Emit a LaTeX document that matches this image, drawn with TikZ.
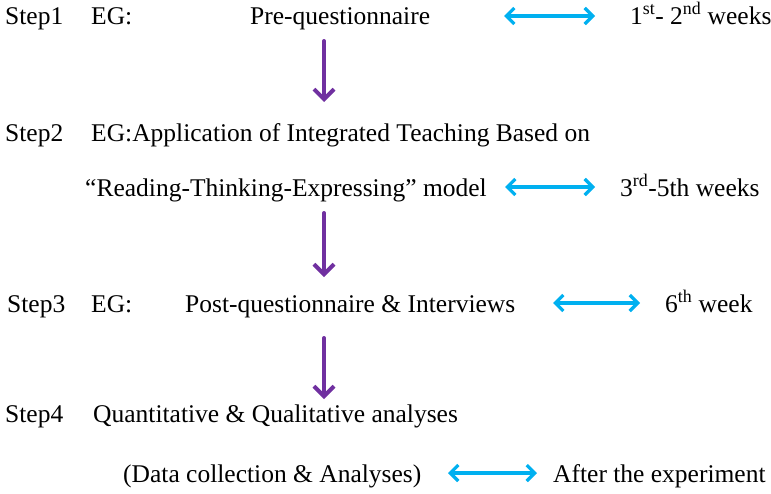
\documentclass[tikz,border=0pt]{standalone}
\usepackage{fontspec}
\setmainfont{Liberation Serif}
\usetikzlibrary{arrows.meta}
\definecolor{stepPurple}{HTML}{7030A0}
\definecolor{stepCyan}{HTML}{00B0F0}
\begin{document}
\begin{tikzpicture}[x=1pt,y=-1pt,
  txt/.style={anchor=base west,inner sep=0pt,font=\fontsize{25.5}{30}\selectfont},
  flow/.style={draw=stepPurple,line width=4pt,line cap=round,
    -{Straight Barb[length=10pt,width=20pt,line width=4pt]}},
  span/.style={draw=stepCyan,line width=3.2pt,line cap=round,
    {Straight Barb[length=8pt,width=16pt,line width=3.2pt]}-{Straight Barb[length=8pt,width=16pt,line width=3.2pt]}}]
\useasboundingbox (0,0) rectangle (771,493);
% row 1
\node[txt] (s1) at (5,24) {Step1};
\node[txt] (eg1) at (91,24) {EG:};
\node[txt] (pre) at (250,24) {Pre-questionnaire};
\node[txt] (w1) at (630,24) {1\textsuperscript{st}- 2\textsuperscript{nd} weeks};
% row 2
\node[txt] (s2) at (5,141) {Step2};
\node[txt] (app) at (91,141) {EG:Application of Integrated Teaching Based on};
% row 3
\node[txt] (rte) at (85,196) {“Reading-Thinking-Expressing” model};
\node[txt] (w2) at (620,196) {3\textsuperscript{rd}-5th weeks};
% row 4
\node[txt] (s3) at (7,312) {Step3};
\node[txt] (eg3) at (91,312) {EG:};
\node[txt] (post) at (185,312) {Post-questionnaire \& Interviews};
\node[txt] (w3) at (665,312) {6\textsuperscript{th} week};
% row 5
\node[txt] (s4) at (5,422) {Step4};
\node[txt] (qq) at (93,422) {Quantitative \& Qualitative analyses};
% row 6
\node[txt] (dc) at (123,482) {(Data collection \& Analyses)};
\node[txt] (aft) at (553,482) {After the experiment};
% coordinates
\coordinate (p1a) at (324,41);
\coordinate (p1b) at (324,102);
\coordinate (p2a) at (324,213);
\coordinate (p2b) at (324,277);
\coordinate (p3a) at (324,338);
\coordinate (p3b) at (324,399);
\coordinate (c1a) at (504,16);
\coordinate (c1b) at (595,16);
\coordinate (c2a) at (505,187);
\coordinate (c2b) at (595,187);
\coordinate (c3a) at (553,303);
\coordinate (c3b) at (640,303);
\coordinate (c4a) at (448,473);
\coordinate (c4b) at (537,473);
% purple flow arrows
\draw[flow] (p1a) -- (p1b);
\draw[flow] (p2a) -- (p2b);
\draw[flow] (p3a) -- (p3b);
% cyan span arrows
\draw[span] (c1a) -- (c1b);
\draw[span] (c2a) -- (c2b);
\draw[span] (c3a) -- (c3b);
\draw[span] (c4a) -- (c4b);
\end{tikzpicture}
\end{document}
